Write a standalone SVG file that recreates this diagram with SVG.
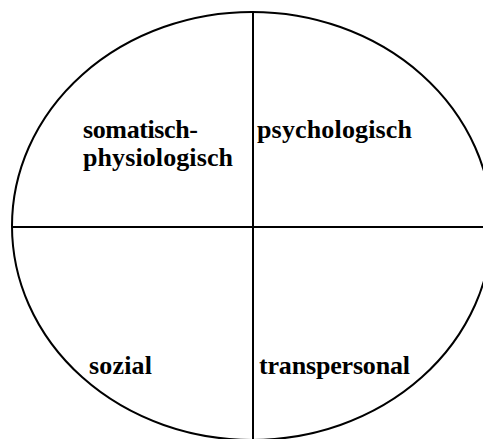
<svg xmlns="http://www.w3.org/2000/svg" width="483" height="439" viewBox="0 0 483 439">
<style>
.ln{stroke:#000;stroke-width:2;fill:none}
text{font-family:"Liberation Serif","DejaVu Serif",serif;font-weight:700;font-size:26px;fill:#000}
</style>
<rect width="483" height="439" fill="#fff"/>
<g id="circle"><ellipse class="ln" cx="252" cy="226" rx="240" ry="214"/></g>
<g id="connectors">
<line class="ln" x1="253" y1="12" x2="253" y2="439"/>
<line class="ln" x1="12" y1="227" x2="483" y2="227"/>
</g>
<g id="somatisch"><text x="83" y="138" textLength="115">somatisch-</text><text x="83" y="166" textLength="150">physiologisch</text></g>
<g id="psychologisch"><text x="257" y="138" textLength="155">psychologisch</text></g>
<g id="sozial"><text x="89" y="374" textLength="63">sozial</text></g>
<g id="transpersonal"><text x="259" y="374" textLength="151">transpersonal</text></g>
</svg>
